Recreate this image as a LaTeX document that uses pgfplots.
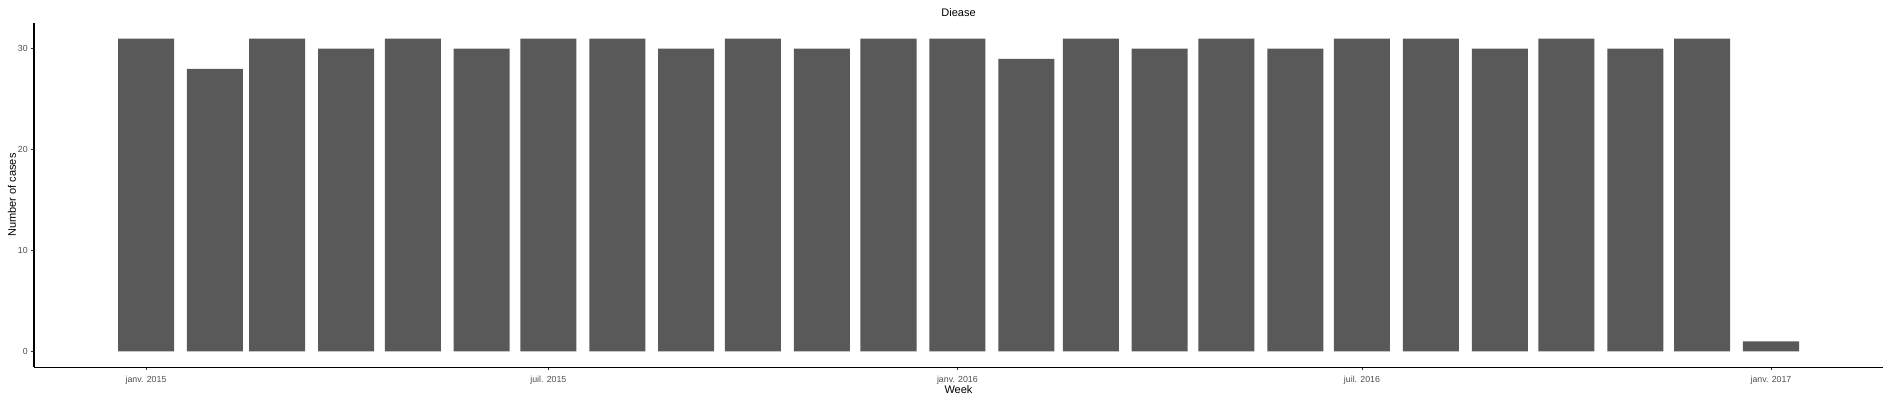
\documentclass[border=0pt]{standalone}
\usepackage{pgfplots}
\pgfplotsset{compat=1.18}
\usepackage{fontspec}
\setmainfont{Liberation Sans}
\definecolor{barc}{RGB}{89,89,89}
\definecolor{ticklab}{RGB}{77,77,77}
\definecolor{tickc}{RGB}{51,51,51}
\begin{document}
\begin{tikzpicture}
\path[use as bounding box] (0,0) rectangle (1890pt,400pt);
\begin{axis}[
  at={(34pt,33pt)}, anchor=south west,
  scale only axis, width=1849pt, height=344pt,
  xmin=-50.4, xmax=781.4, ymin=-1.55, ymax=32.55,
  axis x line*=bottom, axis y line*=left,
  axis line style={line width=1pt, black},
  tick align=outside, major tick length=2.75pt,
  tick style={tickc, line width=0.6pt},
  xtick={0,181,365,547,731},
  xticklabels={janv. 2015, juil. 2015, janv. 2016, juil. 2016, janv. 2017},
  ytick={0,10,20,30},
  /pgf/number format/assume math mode=true,
  ticklabel style={font=\fontsize{8.8}{10}\selectfont, text=ticklab},
  xticklabel style={yshift=-3pt},
  title={Diease},
  title style={at={(0.5,1)}, anchor=base, font=\fontsize{11}{13}\selectfont},
  xlabel={Week},
  xlabel style={at={(0.5,0)}, anchor=base, yshift=-26pt, font=\fontsize{11}{13}\selectfont},
  ylabel={Number of cases},
  ylabel style={at={(0,0.5)}, anchor=center, yshift=22pt, font=\fontsize{11}{13}\selectfont},
  ybar, bar width=25.2, bar shift=0pt,
  clip=false,
]
\addplot[fill=barc, draw=none] coordinates {
(0,31) (31,28) (59,31) (90,30) (120,31) (151,30) (181,31) (212,31) (243,30) (273,31) (304,30) (334,31)
(365,31) (396,29) (425,31) (456,30) (486,31) (517,30) (547,31) (578,31) (609,30) (639,31) (670,30) (700,31)
(731,1)
};
\end{axis}
\end{tikzpicture}
\end{document}
